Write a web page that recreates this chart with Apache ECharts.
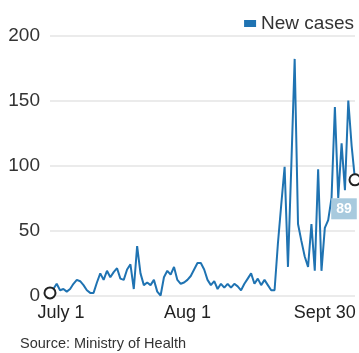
<!DOCTYPE html>
<html>
<head>
<meta charset="utf-8">
<script src="https://cdn.jsdelivr.net/npm/echarts@6/dist/echarts.min.js"></script>
<style>
  html, body { margin: 0; padding: 0; background: #fff; }
  #chart { width: 359px; height: 353px; }
</style>
</head>
<body>
<div id="chart"></div>
<script>
// daily new cases, July 1 -> Sept 30
var newCases = [
  2, 5, 9, 4, 5, 3, 5, 9, 12, 11,
  8, 4, 2, 2, 10, 17, 12, 19, 14, 18,
  21, 13, 12, 20, 24, 5, 38, 17, 8, 10,
  8, 12, 3, 0, 14, 19, 16, 22, 12, 9,
  10, 12, 15, 20, 25, 25, 20, 12, 8, 11,
  5, 9, 6, 9, 6, 9, 7, 4, 9, 13,
  17, 9, 13, 8, 12, 8, 4, 4, 40, 70,
  99, 22, 100, 182, 55, 42, 30, 22, 55, 19,
  97, 19, 52, 58, 75, 145, 75, 117, 81, 150,
  115, 89
];
var days = newCases.map(function (v, i) { return String(i); });
// tick labels and where they sit
var tickLabels = ['July 1', 'Aug 1', 'Sept 30'];
var tickIndex = [0, 41, 82];
var yTicks = [0, 50, 100, 150, 200];

var font = 'Liberation Sans, Arial, sans-serif';
var lineColor = '#1f73b2';

var seriesData = newCases.map(function (v, i) {
    if (i === 0 || i === newCases.length - 1) {
        var item = {
            value: v,
            symbol: 'circle',
            symbolSize: 11,
            itemStyle: { color: '#fff', borderColor: '#222', borderWidth: 2 }
        };
        if (i === newCases.length - 1) {
            item.label = {
                show: true,
                position: 'bottom',
                offset: [-11, 7],
                formatter: '{c}',
                color: '#fff',
                backgroundColor: '#a8cade',
                padding: [4, 5, 3, 5],
                fontFamily: font,
                fontSize: 14,
                fontWeight: 'bold'
            };
        }
        return item;
    }
    return v;
});

var chart = echarts.init(document.getElementById('chart'), null, { renderer: 'canvas' });
chart.setOption({
    animation: false,
    backgroundColor: '#fff',
    textStyle: { fontFamily: font },
    legend: {
        data: ['New cases'],
        right: 0,
        top: 9,
        icon: 'rect',
        itemWidth: 12,
        itemHeight: 7,
        itemGap: 6,
        textStyle: { fontSize: 19, color: '#333', fontFamily: font }
    },
    graphic: [{
        type: 'text',
        left: 20,
        top: 336,
        style: { text: 'Source: Ministry of Health', fontSize: 14.5, fill: '#333', fontFamily: font }
    }],
    grid: { left: 50, right: 4, top: 35.5, bottom: 57.5, containLabel: false },
    xAxis: {
        type: 'category',
        data: days,
        boundaryGap: false,
        axisLine: { show: false },
        axisTick: { show: false },
        axisLabel: {
            interval: function (i) { return tickIndex.indexOf(i) >= 0; },
            formatter: function (v, i) {
                var k = tickIndex.indexOf(i);
                return k === 0 ? '{first|' + tickLabels[k] + '}' : tickLabels[k];
            },
            rich: { first: { padding: [0, 0, 0, 22], fontSize: 18, color: '#222', fontFamily: font } },
            fontSize: 18,
            color: '#222',
            margin: 9,
            fontFamily: font
        },
        splitLine: { show: false }
    },
    yAxis: {
        type: 'value',
        min: yTicks[0],
        max: yTicks[yTicks.length - 1],
        interval: 50,
        axisLine: { show: false },
        axisTick: { show: false },
        axisLabel: { fontSize: 19, color: '#333', margin: 10, fontFamily: font },
        splitLine: { lineStyle: { color: '#e4e4e4', width: 1.5 } }
    },
    series: [{
        type: 'line',
        name: 'New cases',
        data: seriesData,
        smooth: false,
        clip: false,
        symbol: 'none',
        showSymbol: true,
        showAllSymbol: true,
        color: lineColor,
        lineStyle: { width: 2, color: lineColor },
        z: 3
    }]
});
</script>
</body>
</html>
